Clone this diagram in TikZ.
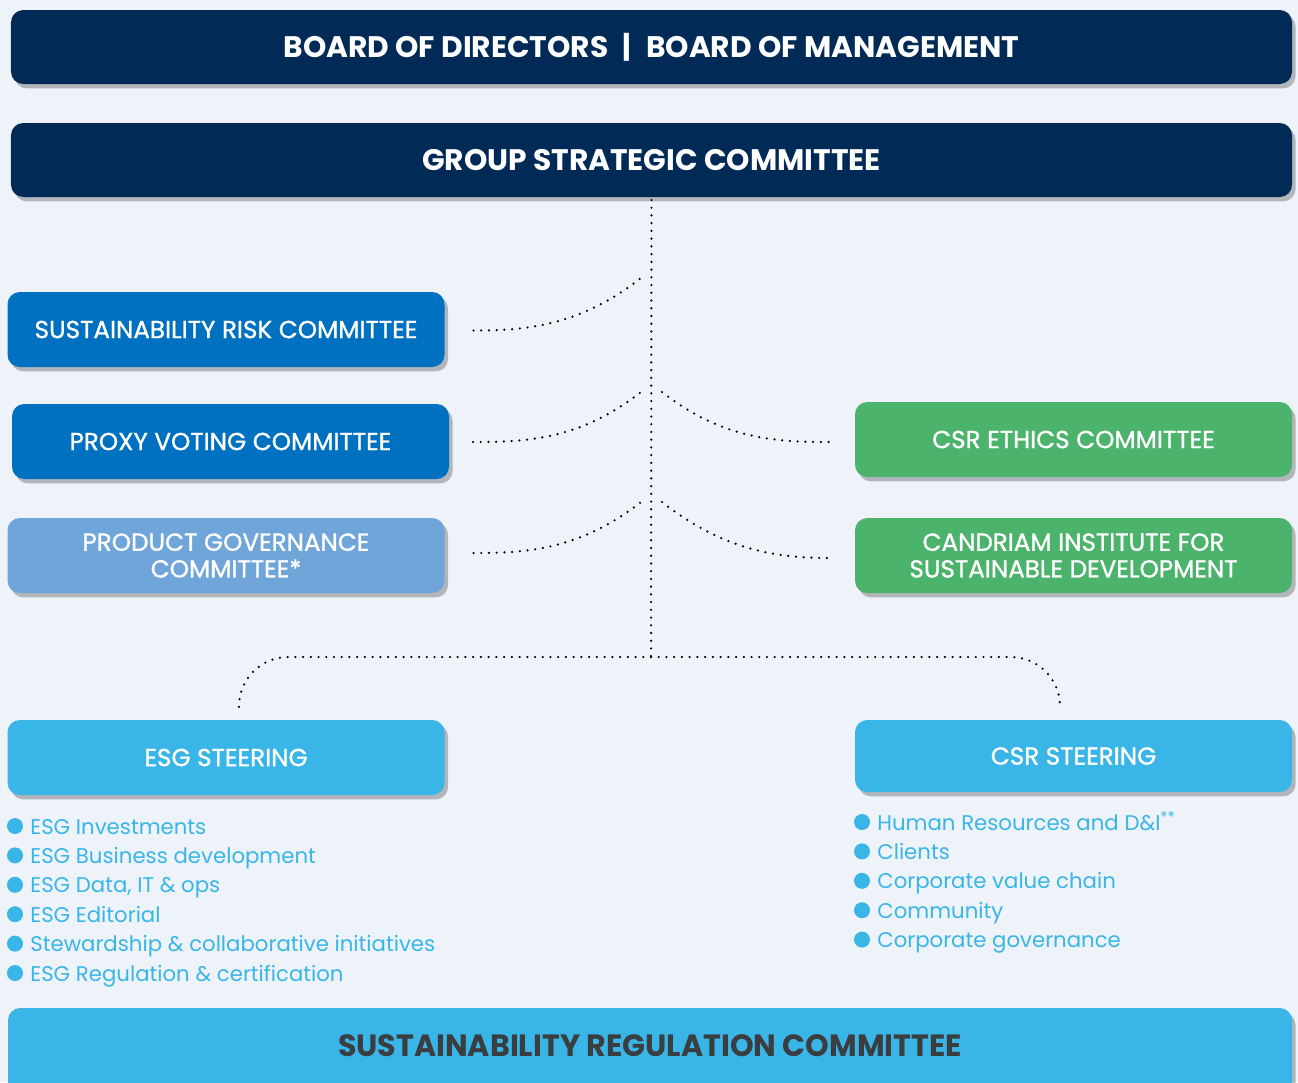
\documentclass[tikz,border=0pt]{standalone}
\usepackage{fontspec}
\setmainfont{Poppins}
\newfontfamily\popmed{Poppins}[FakeBold=1.1]
\usetikzlibrary{shadows}

\definecolor{navy}{HTML}{012B56}
\definecolor{riskblue}{HTML}{0070C0}
\definecolor{prodblue}{HTML}{70A5DA}
\definecolor{csrgreen}{HTML}{4CB36C}
\definecolor{sky}{HTML}{39B5E8}
\definecolor{pagebg}{HTML}{EEF3FA}
\definecolor{darktext}{HTML}{3A3E40}

\begin{document}
\begin{tikzpicture}[
  box/.style = {
    shape = rectangle,
    rounded corners = 7pt,
    minimum height = 1.5cm,
    inner sep = 0pt,
    outer sep = 0pt,
    text = white,
    align = center,
    drop shadow = {shadow xshift = 2pt, shadow yshift = -2.5pt,
                   fill = black, opacity = 0.25},
  },
  board/.style = {
    box, fill = navy, minimum width = 25.62cm, minimum height = 1.48cm,
    font = \bfseries\fontsize{16.9}{20}\selectfont,
  },
  committee/.style = {
    box, minimum width = 8.74cm,
    font = \popmed\fontsize{14}{15.2}\selectfont,
  },
  item/.style = {
    anchor = base west, inner sep = 0pt, text = sky,
    font = \fontsize{12.1}{14}\selectfont,
  },
  link/.style = {
    line width = 1.4pt, line cap = round,
    dash pattern = on 0pt off 4.4pt,
  }
]
  \fill[pagebg] (0, 0) rectangle (25.96, -21.64);
  \useasboundingbox (0, 0) rectangle (25.96, -21.64);

  \node[board] (bod) at (13.03, -0.94)
    {BOARD OF DIRECTORS \;|\; BOARD OF MANAGEMENT};
  \node[board] (gsc) at (13.03, -3.20) {GROUP STRATEGIC COMMITTEE};

  \node[committee, fill = riskblue] (srisk) at (4.52, -6.59)
    {SUSTAINABILITY RISK COMMITTEE};
  \node[committee, fill = riskblue] (proxy) at (4.61, -8.83)
    {PROXY VOTING COMMITTEE};
  \node[committee, fill = prodblue] (prod) at (4.52, -11.11)
    {PRODUCT GOVERNANCE\\COMMITTEE*};
  \node[committee, fill = csrgreen] (ethics) at (21.47, -8.79)
    {CSR ETHICS COMMITTEE};
  \node[committee, fill = csrgreen] (inst) at (21.47, -11.11)
    {CANDRIAM INSTITUTE FOR\\SUSTAINABLE DEVELOPMENT};

  \node[committee, fill = sky] (esg) at (4.52, -15.15) {ESG STEERING};
  \node[committee, fill = sky, minimum height = 1.44cm] (csr)
    at (21.47, -15.12) {CSR STEERING};

  \node[box, fill = sky, minimum width = 25.68cm, minimum height = 2.2cm]
    (src) at (13.0, -21.26) {};
  \node[text = darktext, font = \bfseries\fontsize{17.5}{19}\selectfont]
    (srclabel) at (13.0, -20.92)
    {\scalebox{0.98}[1]{SUSTAINABILITY REGULATION COMMITTEE}};

  % trunk and branch points
  \coordinate (hub) at (13.02, -13.14);
  \coordinate (t1) at (12.82, -5.56);
  \coordinate (t2) at (12.82, -7.84);
  \coordinate (t2r) at (13.24, -7.84);
  \coordinate (t3) at (12.82, -10.04);
  \coordinate (t3r) at (13.24, -10.04);
  \coordinate (esgtop) at (4.78, -14.16);
  \coordinate (csrtop) at (21.20, -14.16);

  \begin{scope}[every path/.style = {link}]
    \draw ([xshift = 0.18cm] gsc.south) ++(-0.18, -0.06) -- (hub);
    \draw[shorten <= 0.58cm] ([yshift = -0.02cm] srisk.east)
      to[out = 0, in = -142] (t1);
    \draw[shorten <= 0.48cm] ([yshift = -0.01cm] proxy.east)
      to[out = 0, in = -142] (t2);
    \draw[shorten <= 0.58cm] ([yshift = 0.05cm] prod.east)
      to[out = 0, in = -142] (t3);
    \draw[shorten >= 0.5cm] (t2r)
      to[out = -38, in = 180] ([yshift = -0.05cm] ethics.west);
    \draw[shorten >= 0.5cm] (t3r)
      to[out = -38, in = 180] ([yshift = -0.05cm] inst.west);
    \draw[rounded corners = 28pt] (hub) -| (esgtop);
    \draw[rounded corners = 28pt] (hub) -| (csrtop);
  \end{scope}

  % steering work streams
  \foreach \txt [count = \i] in {
    ESG Investments,
    ESG Business development,
    {ESG Data, IT \& ops},
    ESG Editorial,
    Stewardship \& collaborative initiatives,
    ESG Regulation \& certification} {
    \fill[sky] (0.30, -16.52 - 0.588 * \i + 0.588) circle (0.16);
    \node[item] (esg-\i) at (0.60, -16.68 - 0.588 * \i + 0.588) {\txt};
  }
  \foreach \txt [count = \i] in {
    Human Resources and D\&I\textsuperscript{**},
    Clients,
    Corporate value chain,
    Community,
    Corporate governance} {
    \fill[sky] (17.24, -16.44 - 0.588 * \i + 0.588) circle (0.16);
    \node[item] (csr-\i) at (17.54, -16.60 - 0.588 * \i + 0.588) {\txt};
  }
\end{tikzpicture}
\end{document}
